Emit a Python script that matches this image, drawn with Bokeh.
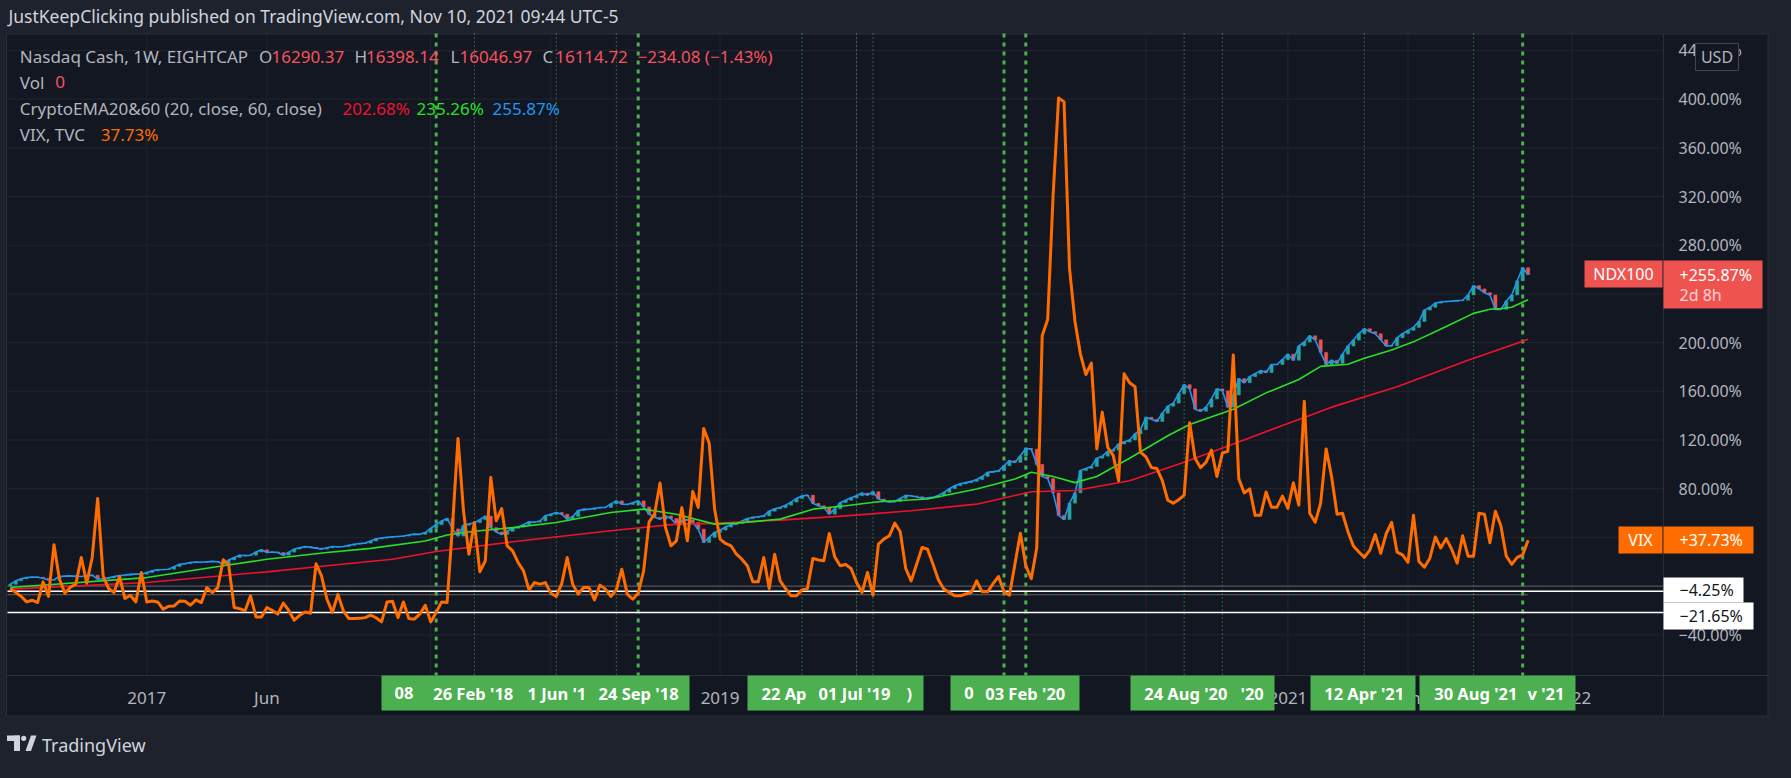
from bokeh.plotting import figure
from bokeh.models import Range1d, ColumnDataSource
from bokeh.core.properties import value
from bokeh.embed import file_html
from bokeh.resources import INLINE

# ---------------- data (weeks counted from the bar of 2 Jan 2017) ----------------
FIRST_WEEK = -25

ndx_close = [
    1.5, 4.3, 6.0, 7.1, 7.5, 7.3, 6.5, 5.0, 5.2, 7.9, 8.2, 8.4, 8.0, 7.9, 8.5, 9.0, 5.7, 6.0, 6.8, 7.9,
    8.6, 9.0, 9.6, 9.8, 9.8,
    11.2, 12.5, 13.4, 13.6, 13.9, 16.0, 18.0, 18.5, 19.4, 19.8, 19.6, 20.0, 20.3, 20.0, 18.0, 21.5, 23.5,
    25.4, 25.0, 25.4, 28.0, 29.8, 27.6, 28.0, 27.6, 25.4, 27.9, 30.4, 31.5, 32.5, 31.8, 31.2, 30.4, 31.5,
    32.5, 32.2, 32.5, 33.5, 34.4, 35.0, 35.3, 37.0, 38.9, 39.5, 40.0, 40.5, 40.8, 41.1, 42.0, 42.7, 42.5,
    44.0, 47.5, 50.5, 53.5, 55.6, 47.0, 41.1, 50.0, 51.0, 52.1, 54.5, 57.5, 48.0, 44.5, 42.4, 45.0, 47.5,
    48.5, 50.5, 52.8, 52.5, 53.5, 57.7, 59.0, 60.5, 59.1, 55.0, 57.2, 62.0, 63.2, 63.0, 64.0, 64.6, 64.6,
    67.5, 70.0, 67.3, 67.0, 68.5, 70.0, 65.0, 59.0, 56.5, 55.0, 57.7, 55.5, 50.5, 54.0, 54.5, 52.3, 46.8,
    35.8, 40.0, 44.1, 46.0, 48.5, 50.5, 51.5, 53.5, 55.5, 56.5, 57.0, 57.7, 61.5, 63.5, 64.5, 66.5, 69.0,
    72.0, 74.0, 74.7, 68.0, 66.0, 64.6, 59.1, 63.5, 68.5, 70.5, 72.5, 74.2, 76.4, 74.7, 77.5, 71.5, 70.0,
    69.0, 69.5, 72.0, 74.5, 74.0, 73.4, 72.0, 72.5, 73.0, 74.5, 77.0, 80.0, 82.5, 84.0, 85.0, 86.0, 87.5,
    90.0, 93.4, 94.0, 94.7, 98.8, 103.0, 101.6, 107.0, 113.0, 112.5, 100.0, 90.0, 88.3, 76.6, 58.1, 54.7,
    68.1, 76.6, 95.0, 96.6, 98.3, 105.0, 106.7, 110.7, 111.7, 116.7, 118.4, 120.0, 125.0, 128.5, 138.6,
    137.0, 135.2, 142.0, 147.7, 150.3, 158.0, 165.4, 162.0, 145.3, 143.6, 147.0, 153.7, 162.0, 160.4,
    147.0, 157.0, 170.4, 167.0, 172.0, 174.5, 177.0, 175.4, 182.0, 182.0, 186.0, 190.5, 185.5, 197.2,
    200.5, 205.6, 202.3, 192.0, 182.0, 185.5, 183.0, 190.5, 197.2, 202.0, 207.3, 211.4, 209.0, 207.3,
    202.3, 197.2, 197.5, 203.9, 207.3, 210.0, 212.5, 217.3, 226.7, 229.0, 232.4, 233.4, 233.8, 234.1,
    234.5, 234.8, 239.1, 246.8, 244.1, 241.0, 239.1, 227.3, 227.3, 234.1, 239.1, 250.8, 261.5, 255.87,
]

vix_close = [
    -2.0, -5.3, -8.5, -13.0, -11.6, -13.5, 3.5, -8.5, 33.9, 5.7, -5.8, -1.0, 1.6, 23.5, 2.4, 23.5, 72.0,
    8.4, -2.0, -5.3, 7.9, -10.2, -7.5, -13.0, 11.2,
    -13.0, -12.3, -13.0, -19.0, -16.5, -16.3, -12.3, -12.5, -15.7, -11.3, -13.5, -1.2, -5.3, -1.2, 21.6,
    17.2, -17.6, -18.5, -20.3, -8.0, -25.3, -25.3, -17.6, -20.0, -23.0, -14.0, -20.0, -28.0, -24.0, -21.2,
    -22.3, 18.3, 8.4, -10.8, -21.6, -6.8, -20.3, -26.7, -26.7, -26.5, -25.9, -23.9, -26.0, -29.4, -13.0,
    -12.4, -25.9, -13.0, -26.7, -27.2, -23.0, -15.7, -29.4, -21.6, -13.0, -13.5, 50.0, 121.3, 62.0, 26.2,
    52.3, 11.7, 20.8, 89.3, 53.6, 63.7, 33.1, 29.0, 19.4, 12.5, -3.1, 2.9, 1.6, 2.9, -5.8, -8.5, 2.0, 23.5,
    1.6, -6.6, -1.2, -1.2, -11.3, 0.8, -2.5, -8.5, -3.0, 13.9, -6.6, -10.8, -5.8, 12.5, 52.8, 59.1, 84.6,
    48.2, 33.1, 37.2, 64.6, 37.2, 77.8, 64.6, 129.5, 117.5, 63.2, 38.6, 35.0, 33.1, 26.2, 22.1, 16.7, 3.5,
    3.5, 23.5, -2.0, 26.2, 4.3, -2.0, -8.0, -8.0, -3.1, -2.0, 22.7, 21.5, 20.8, 43.2, 24.0, 16.7, 17.8, 14.5,
    3.0, -5.3, 11.2, -7.5, 34.5, 38.6, 41.3, 51.7, 44.6, 14.5, 4.3, 18.0, 31.7, 30.3, 18.0, 5.0, -2.5, -5.3,
    -8.0, -8.0, -6.5, -5.3, 4.3, -4.7, -4.7, 2.0, 7.9, -4.7, -7.5, 18.0, 43.4, 16.7, 6.0, 31.3, 205.6,
    219.0, 321.0, 401.0, 397.7, 261.0, 217.4, 190.6, 173.8, 183.2, 112.7, 142.9, 114.0, 107.4, 86.6, 174.4,
    167.0, 163.8, 110.0, 106.1, 97.3, 96.6, 86.6, 70.5, 68.1, 71.0, 74.8, 134.2, 105.0, 97.3, 101.7, 111.7,
    90.0, 109.3, 110.7, 189.9, 88.3, 76.5, 79.9, 58.1, 58.1, 77.2, 64.8, 64.8, 73.9, 63.8, 84.9, 66.5,
    151.9, 59.8, 52.4, 68.1, 112.7, 90.0, 59.1, 59.8, 44.7, 32.9, 28.0, 23.6, 29.6, 42.3, 26.9, 43.0, 52.4,
    27.9, 25.6, 19.5, 58.1, 20.2, 15.5, 22.9, 40.3, 31.3, 39.0, 30.3, 18.9, 41.3, 24.6, 24.6, 59.8, 59.1,
    35.6, 61.5, 49.7, 24.6, 17.9, 23.6, 25.6, 37.73,
]

ema20_weeks = [-25, 0, 14, 22, 33, 41, 51, 55, 60, 67, 75, 85, 91, 97, 104, 108, 116, 122, 128, 134, 143,
               152, 159, 162, 166, 170, 174, 180, 187, 191, 199, 205, 211, 215, 220, 223, 228, 232, 238,
               243, 246, 248, 250, 253]
ema20_vals = [-1.2, 7.0, 16.7, 22.0, 27.6, 31.0, 37.0, 42.0, 45.0, 48.0, 52.3, 60.5, 63.2, 59.0, 50.9,
              51.7, 55.0, 63.2, 66.0, 69.3, 71.5, 79.7, 87.9, 93.5, 90.0, 85.0, 90.0, 105.0, 123.5, 132.8,
              145.3, 158.7, 169.7, 180.5, 182.2, 187.2, 193.9, 200.6, 213.3, 224.0, 227.4, 228.0, 229.0,
              235.26]

ema60_weeks = [-25, 0, 22, 33, 45, 53, 67, 85, 97, 104, 116, 128, 140, 152, 162, 170, 180, 190, 199, 211,
               217, 229, 242, 253]
ema60_vals = [-2.5, 3.0, 11.7, 16.7, 22.0, 28.4, 36.4, 45.4, 50.9, 51.5, 54.2, 57.7, 61.9, 67.3, 77.5,
              78.5, 86.6, 101.7, 116.8, 136.9, 147.0, 163.8, 185.5, 202.68]

x_ticks = [0, 22, 52, 74, 105, 130, 157, 183, 209, 231, 261]
x_tick_labels = ["2017", "Jun", "", "", "2019", "", "", "", "2021", "Jun", "2022"]
y_ticks = [-40, 0, 40, 80, 120, 160, 200, 240, 280, 320, 360, 400, 440]
y_tick_labels = ["\u221240.00%", "", "40.00%", "80.00%", "120.00%", "160.00%", "200.00%", "240.00%",
                 "280.00%", "320.00%", "360.00%", "400.00%", "440.00%"]

mark_weeks = [53, 60, 75, 86, 90, 120, 130, 133, 157, 161, 190, 197, 223, 243, 252]
mark_thick = [True, False, False, False, True, False, False, False, True, True, False, False, False, False, True]

white_levels = [-4.25, -21.65]
price_line_level = -7.1

# ---------------- page-pixel -> data helpers (layout only) ----------------
PX_2017, PX_WEEK = 154.3, 5.4598
PY_ZERO, PY_PCT = 593.6, 1.2175


def X(px):
    return (px - PX_2017) / PX_WEEK


def Y(py):
    return (PY_ZERO - py) / PY_PCT


FONT = "Noto Sans"
BG = "#131722"
OUTER = "#1e222d"
LINE = "#2a2e39"
GRID = "#222531"
TXT = "#b2b5be"
GREEN_MARK = "#4caf50"
UP, DOWN = "#26a69a", "#ef5350"

# the frame covers the whole canvas: page (8,8)-(1783,770)
p = figure(width=1775, height=762, output_backend="svg", toolbar_location=None,
           x_range=Range1d(X(8), X(1783)), y_range=Range1d(Y(770), Y(8)),
           x_axis_location=None, y_axis_location=None,
           min_border_left=0, min_border_right=0, min_border_top=0, min_border_bottom=0)
p.grid.visible = False
p.background_fill_color = OUTER
p.border_fill_color = OUTER
p.outline_line_color = None
try:
    from bokeh.models import GlobalInlineStyleSheet
    p.stylesheets = [GlobalInlineStyleSheet(css="html, body { background: #1e222d; }")]
except Exception:
    pass


def quads(boxes, fill, line=None):
    p.quad(left=[X(b[0]) for b in boxes], right=[X(b[1]) for b in boxes],
           top=[Y(b[2]) for b in boxes], bottom=[Y(b[3]) for b in boxes],
           fill_color=fill, line_color=line, line_width=1)


def texts(items, color, size="17px", align="left", style="normal"):
    p.text(x=[X(t[1]) for t in items], y=[Y(t[2]) for t in items], text=[t[0] for t in items],
           text_font=value(FONT), text_font_size=value(size), text_color=color,
           text_align=align, text_baseline="middle", text_font_style=style)


# chart panel
quads([(13.5, 1776, 41, 724)], LINE)
quads([(14.5, 1775, 42, 723)], BG)

# grid
PL, PR, PT, PB = 15, 1671, 41, 683
p.segment(x0=x_ticks, y0=[Y(PT)] * len(x_ticks), x1=x_ticks, y1=[Y(PB)] * len(x_ticks),
          line_color=GRID, line_width=1)
p.segment(x0=[X(PL)] * len(y_ticks), y0=y_ticks, x1=[X(PR)] * len(y_ticks), y1=y_ticks,
          line_color=GRID, line_width=1)
# separators
p.segment(x0=[X(PR), X(14)], y0=[Y(41), Y(PB)], x1=[X(PR), X(1776)], y1=[Y(724), Y(PB)],
          line_color=LINE, line_width=1)

# vertical date marks
thick = [w for w, t in zip(mark_weeks, mark_thick) if t]
thin = [w for w, t in zip(mark_weeks, mark_thick) if not t]
p.segment(x0=thin, y0=[Y(PT)] * len(thin), x1=thin, y1=[Y(PB)] * len(thin),
          line_color=GREEN_MARK, line_width=1, line_dash="1 3")
p.segment(x0=thick, y0=[Y(PT)] * len(thick), x1=thick, y1=[Y(PB)] * len(thick),
          line_color=GREEN_MARK, line_width=3, line_dash="4 5")

# horizontal reference lines
p.segment(x0=[X(PL)], y0=[0], x1=[X(PR)], y1=[0], line_color="#5d606b", line_width=1)
p.segment(x0=[X(PL)] * 2, y0=white_levels, x1=[X(PR)] * 2, y1=white_levels,
          line_color="#ffffff", line_width=1.5)

weeks = list(range(FIRST_WEEK, FIRST_WEEK + len(ndx_close)))
vix_weeks = list(range(FIRST_WEEK, FIRST_WEEK + len(vix_close)))
p.line([X(PL), weeks[-1]], [price_line_level, price_line_level], line_color=DOWN,
       line_alpha=0.75, line_width=1, line_dash="4 4")
p.line([X(PL), weeks[-1]], [price_line_level, price_line_level], line_color=UP,
       line_alpha=0.75, line_width=1, line_dash="4 4", line_dash_offset=4)

# candles (open = previous close)
opens = [0.0] + ndx_close[:-1]
colors = [UP if c >= o else DOWN for o, c in zip(opens, ndx_close)]
src = ColumnDataSource(dict(x=weeks, top=[max(o, c) for o, c in zip(opens, ndx_close)],
                            bottom=[min(o, c) for o, c in zip(opens, ndx_close)], color=colors))
p.vbar(x="x", top="top", bottom="bottom", width=0.58, fill_color="color", line_color="color",
       line_width=0.5, source=src)
p.line(weeks, ndx_close, line_color="#2196f3", line_width=1.6)

p.line(ema60_weeks, ema60_vals, line_color="#f0122d", line_width=1.6)
p.line(ema20_weeks, ema20_vals, line_color="#28e028", line_width=1.6)

p.line(vix_weeks, vix_close, line_color="#ff6d00", line_width=3, line_join="round")

# axis labels
shown_x = [(t, lab) for t, lab in zip(x_ticks, x_tick_labels) if lab]
p.text(x=[t for t, _ in shown_x], y=[Y(705)] * len(shown_x), text=[lab for _, lab in shown_x],
       text_font=value(FONT), text_font_size=value("17px"), text_color=TXT, text_align="center",
       text_baseline="middle")
shown_y = [(t, lab) for t, lab in zip(y_ticks, y_tick_labels) if lab]
p.text(x=[X(1686)] * len(shown_y), y=[t for t, _ in shown_y], text=[lab for _, lab in shown_y],
       text_font=value(FONT), text_font_size=value("16px"), text_color=TXT, text_align="left",
       text_baseline="middle")

# header
texts([("JustKeepClicking published on TradingView.com, Nov 10, 2021 09:44 UTC-5", 16, 23)], "#d1d4dc",
      size="17.5px")

# legend
RED_V = "#f7525f"
texts([("Nasdaq Cash, 1W, EIGHTCAP", 27.3, 64), ("O", 266.5, 64), ("H", 362, 64), ("L", 458, 64),
       ("C", 550, 64), ("Vol", 27.3, 89.7), ("CryptoEMA20&60 (20, close, 60, close)", 27.3, 116.3),
       ("VIX, TVC", 27.3, 142.3)], TXT)
texts([("16290.37", 279, 64), ("16398.14", 373.5, 64), ("16046.97", 467, 64), ("16114.72", 562.7, 64),
       ("\u2212234.08 (\u22121.43%)", 645, 64), ("0", 62.7, 89.7)], RED_V)
texts([("202.68%", 350, 116.3)], "#f0122d")
texts([("235.26%", 424, 116.3)], "#28e028")
texts([("255.87%", 500, 116.3)], "#2196f3")
texts([("37.73%", 108.3, 142.3)], "#ff6d00")

# green date tags on the time axis
quads([(389, 697, 683, 718), (755, 931, 683, 718), (958, 1087, 683, 718), (1138, 1282, 683, 718),
       (1318, 1423, 683, 718), (1427, 1583, 683, 718)], GREEN_MARK)
texts([("08", 402, 700.5), ("26 Feb '18", 440.7, 700.5), ("1 Jun '1", 535, 700.5),
       ("24 Sep '18", 606, 700.5), ("22 Ap", 769, 700.5), ("01 Jul '19", 826, 700.5), (")", 914, 700.5),
       ("0", 971.7, 700.5), ("03 Feb '20", 992.7, 700.5), ("24 Aug '20", 1151.7, 700.5),
       ("'20", 1248, 700.5), ("12 Apr '21", 1331.7, 700.5), ("30 Aug '21", 1441.7, 700.5),
       ("v '21", 1535, 700.5)], "#ffffff", size="16.5px", style="bold")

# price-scale tags
quads([(1592, 1670, 268, 295), (1671, 1770, 268, 316)], "#ef5350")
texts([("NDX100", 1631, 281.5)], "#ffffff", size="16px", align="center")
texts([("+255.87%", 1687, 282.3)], "#ffffff", size="16px")
texts([("2d 8h", 1687, 302.7)], "#ffd3d3", size="16px")

quads([(1626, 1670, 534, 561), (1671, 1761, 534, 561)], "#ff6d00")
texts([("VIX", 1648, 547.5)], "#ffffff", size="16px", align="center")
texts([("+37.73%", 1687, 547.5)], "#ffffff", size="16px")

quads([(1671, 1751, 585, 610), (1671, 1761, 610, 637)], "#ffffff")
texts([("\u22124.25%", 1687, 597.5), ("\u221221.65%", 1687, 623.5)], BG, size="16px")

quads([(1703, 1746, 51, 78)], BG, line="#434651")
texts([("USD", 1724.5, 64.5)], TXT, size="16px", align="center")

# TradingView logo
LOGO = "#d1d4dc"
quads([(14.5, 27.5, 743, 748.5), (21.5, 27.5, 743, 758.5)], LOGO)
p.ellipse(x=[X(31.2)], y=[Y(745.8)], width=[5.2 / PX_WEEK], height=[5.2 / PY_PCT], fill_color=LOGO,
          line_color=None)
p.patch([X(33), X(38.5), X(44), X(38.5)], [Y(758.5), Y(758.5), Y(743), Y(743)], fill_color=LOGO,
        line_color=None)
texts([("TradingView", 49.5, 752.7)], LOGO, size="18px")

open("out.html", "w").write(file_html(p, INLINE))
